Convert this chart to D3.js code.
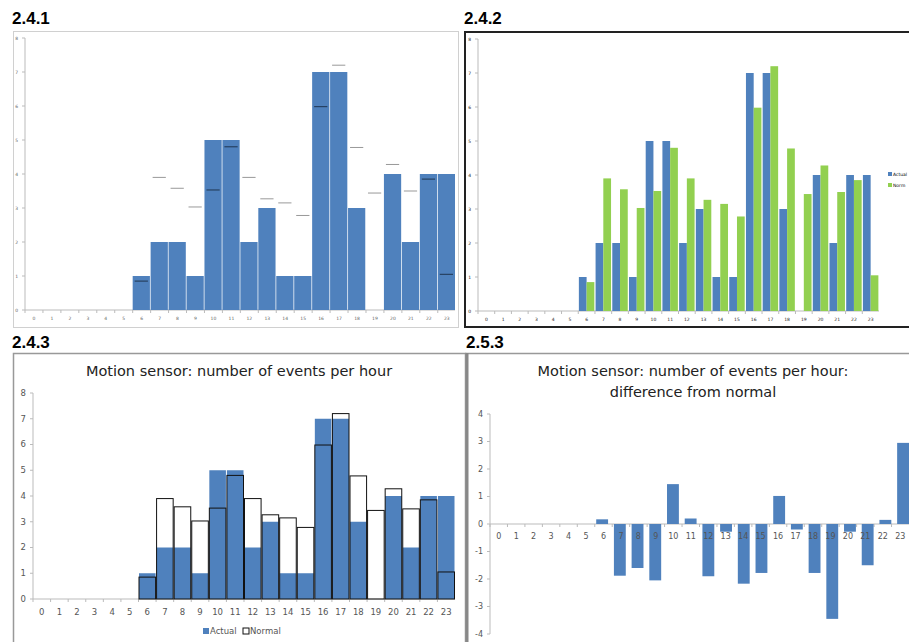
<html>
<head>
<meta charset="utf-8">
<script src="https://d3js.org/d3.v7.min.js"></script>
<style>body{margin:0;background:#fff}</style>
</head>
<body>
<script>
// data
const hours = d3.range(24).map(String);
const actual = [0,0,0,0,0,0,1,2,2,1,5,5,2,3,1,1,7,7,3,0,4,2,4,4];
const normal = [0,0,0,0,0,0,0.85,3.9,3.58,3.03,3.53,4.8,3.9,3.27,3.15,2.78,5.98,7.2,4.78,3.44,4.28,3.5,3.85,1.05];
const diff = [0,0,0,0,0,0,0.17,-1.88,-1.6,-2.05,1.45,0.2,-1.9,-0.28,-2.17,-1.78,1.02,-0.2,-1.78,-3.45,-0.28,-1.5,0.15,2.95];
const yTicks8 = d3.range(9);
const yTicks4 = d3.range(-4, 5);

const blue = "#4f81bd", green = "#92d050";
const svg = d3.select("body").append("svg").attr("width", 909).attr("height", 642);

function label(x, y, t) {
  svg.append("text").attr("x", x).attr("y", y).attr("font-family", "Liberation Sans, Arial")
    .attr("font-weight", "bold").attr("font-size", 17).text(t);
}
function frame(x, y, w, h, stroke, sw) {
  svg.append("rect").attr("x", x).attr("y", y).attr("width", w).attr("height", h)
    .attr("fill", "none").attr("stroke", stroke).attr("stroke-width", sw);
}
function axes(g, x, y, x0, x1, fs, col, ticks, labelY) {
  g.append("line").attr("x1", x0).attr("x2", x0).attr("y1", y.range()[1]).attr("y2", y.range()[0]).attr("stroke", "#bbb");
  g.append("line").attr("x1", x0).attr("x2", x1).attr("y1", y(0)).attr("y2", y(0)).attr("stroke", "#bbb");
  ticks.forEach(t => {
    g.append("line").attr("x1", x0 - 3).attr("x2", x0).attr("y1", y(t)).attr("y2", y(t)).attr("stroke", "#bbb");
    g.append("text").attr("x", x0 - 7).attr("y", y(t)).attr("dy", "0.35em").attr("text-anchor", "end")
      .attr("font-size", fs).attr("fill", col).attr("font-family", "DejaVu Sans").text(t);
  });
  hours.forEach(h => {
    g.append("line").attr("x1", x(h)).attr("x2", x(h)).attr("y1", y(0)).attr("y2", y(0) + 3).attr("stroke", "#bbb");
    g.append("text").attr("class", "xl").attr("x", x(h) + x.step() / 2).attr("y", labelY).attr("dy", "0.35em").attr("text-anchor", "middle")
      .attr("font-size", fs).attr("fill", col).attr("font-family", "DejaVu Sans").text(h);
  });
}

// 2.4.1
label(12, 24, "2.4.1");
frame(13.5, 31.5, 445, 296, "#d0d0d0", 1);
{
  const g = svg.append("g");
  const x = d3.scaleBand().domain(hours).range([25, 455]).paddingInner(0.04);
  const y = d3.scaleLinear().domain([0, 8]).range([310, 38]);
  axes(g, x, y, 25, 455, 4.5, "#666", yTicks8, 318);
  g.selectAll(".a").data(actual).join("rect").attr("x", (d, i) => x(hours[i])).attr("width", x.bandwidth())
    .attr("y", d => y(d)).attr("height", d => y(0) - y(d)).attr("fill", blue);
  g.selectAll(".n").data(normal).join("line").filter(d => d > 0)
    .attr("x1", (d, i) => x(hours[i + 6]) + 2).attr("x2", (d, i) => x(hours[i + 6]) + x.bandwidth() - 2)
    .attr("y1", d => y(d)).attr("y2", d => y(d))
    .attr("stroke", (d, i) => normal[i + 6] < actual[i + 6] ? "#1f3550" : "#999").attr("stroke-width", 1);
}

// 2.4.2
label(464, 24, "2.4.2");
frame(465, 32, 446, 295, "#222", 2);
{
  const g = svg.append("g");
  const x = d3.scaleBand().domain(hours).range([478, 879]);
  const s = d3.scaleBand().domain(["a", "n"]).range([0, x.bandwidth()]).paddingOuter(0.08);
  const y = d3.scaleLinear().domain([0, 8]).range([311, 39]);
  axes(g, x, y, 478, 879, 4.5, "#222", yTicks8, 319);
  g.selectAll(".a").data(actual).join("rect").attr("x", (d, i) => x(hours[i]) + s("a")).attr("width", s.bandwidth())
    .attr("y", d => y(d)).attr("height", d => y(0) - y(d)).attr("fill", blue);
  g.selectAll(".n").data(normal).join("rect").attr("x", (d, i) => x(hours[i]) + s("n")).attr("width", s.bandwidth())
    .attr("y", d => y(d)).attr("height", d => y(0) - y(d)).attr("fill", green);
  [["Actual", blue, 174], ["Norm", green, 185]].forEach(([t, c, yy]) => {
    g.append("rect").attr("x", 888).attr("y", yy - 2).attr("width", 4).attr("height", 4).attr("fill", c);
    g.append("text").attr("x", 893).attr("y", yy).attr("dy", "0.35em").attr("font-size", 4.5).attr("font-family", "DejaVu Sans").text(t);
  });
}

// 2.4.3
label(12, 348, "2.4.3");
frame(13.5, 353.5, 452, 300, "#999", 1.5);
{
  const g = svg.append("g");
  g.append("text").attr("x", 239).attr("y", 376).attr("text-anchor", "middle").attr("font-size", 14.5)
    .attr("font-family", "DejaVu Sans").attr("fill", "#222").text("Motion sensor: number of events per hour");
  const x = d3.scaleBand().domain(hours).range([33, 455]);
  const y = d3.scaleLinear().domain([0, 8]).range([599, 393]);
  axes(g, x, y, 33, 455, 8.5, "#555", yTicks8, 612);
  g.selectAll(".a").data(actual).join("rect").attr("x", (d, i) => x(hours[i]) + 0.5).attr("width", x.bandwidth() - 1)
    .attr("y", d => y(d)).attr("height", d => y(0) - y(d)).attr("fill", blue);
  g.selectAll(".n").data(normal).join("rect").attr("x", (d, i) => x(hours[i]) + 0.5).attr("width", x.bandwidth() - 1)
    .attr("y", d => y(d)).attr("height", d => y(0) - y(d)).attr("fill", "none")
    .attr("stroke", d => d > 0 ? "#111" : "none").attr("stroke-width", 1);
  g.append("rect").attr("x", 203).attr("y", 628).attr("width", 6).attr("height", 6).attr("fill", blue);
  g.append("text").attr("x", 210).attr("y", 631).attr("dy", "0.35em").attr("font-size", 8.5).attr("fill", "#555").attr("font-family", "DejaVu Sans").text("Actual");
  g.append("rect").attr("x", 243).attr("y", 628).attr("width", 6).attr("height", 6).attr("fill", "none").attr("stroke", "#111");
  g.append("text").attr("x", 250).attr("y", 631).attr("dy", "0.35em").attr("font-size", 8.5).attr("fill", "#555").attr("font-family", "DejaVu Sans").text("Normal");
}

// 2.5.3
label(466, 348, "2.5.3");
frame(466, 353.5, 450, 300, "#999", 1.5);
svg.append("line").attr("x1", 467).attr("x2", 467).attr("y1", 353).attr("y2", 642).attr("stroke", "#888").attr("stroke-width", 3);
{
  const g = svg.append("g");
  g.append("text").attr("x", 693).attr("y", 376).attr("text-anchor", "middle").attr("font-size", 14.5)
    .attr("font-family", "DejaVu Sans").attr("fill", "#222").text("Motion sensor: number of events per hour:");
  g.append("text").attr("x", 693).attr("y", 397).attr("text-anchor", "middle").attr("font-size", 14.5)
    .attr("font-family", "DejaVu Sans").attr("fill", "#222").text("difference from normal");
  const x = d3.scaleBand().domain(hours).range([490, 909]).paddingInner(0.33);
  const y = d3.scaleLinear().domain([-4, 4]).range([634, 414]);
  const xs = d3.scaleBand().domain(hours).range([490, 909]);
  axes(g, xs, y, 490, 909, 8, "#555", yTicks4, 536);
  g.selectAll(".d").data(diff).join("rect").attr("x", (d, i) => x(hours[i])).attr("width", x.bandwidth())
    .attr("y", d => y(Math.max(0, d))).attr("height", d => Math.abs(y(d) - y(0))).attr("fill", blue);
  g.selectAll(".xl").raise();
}
</script>
</body>
</html>
